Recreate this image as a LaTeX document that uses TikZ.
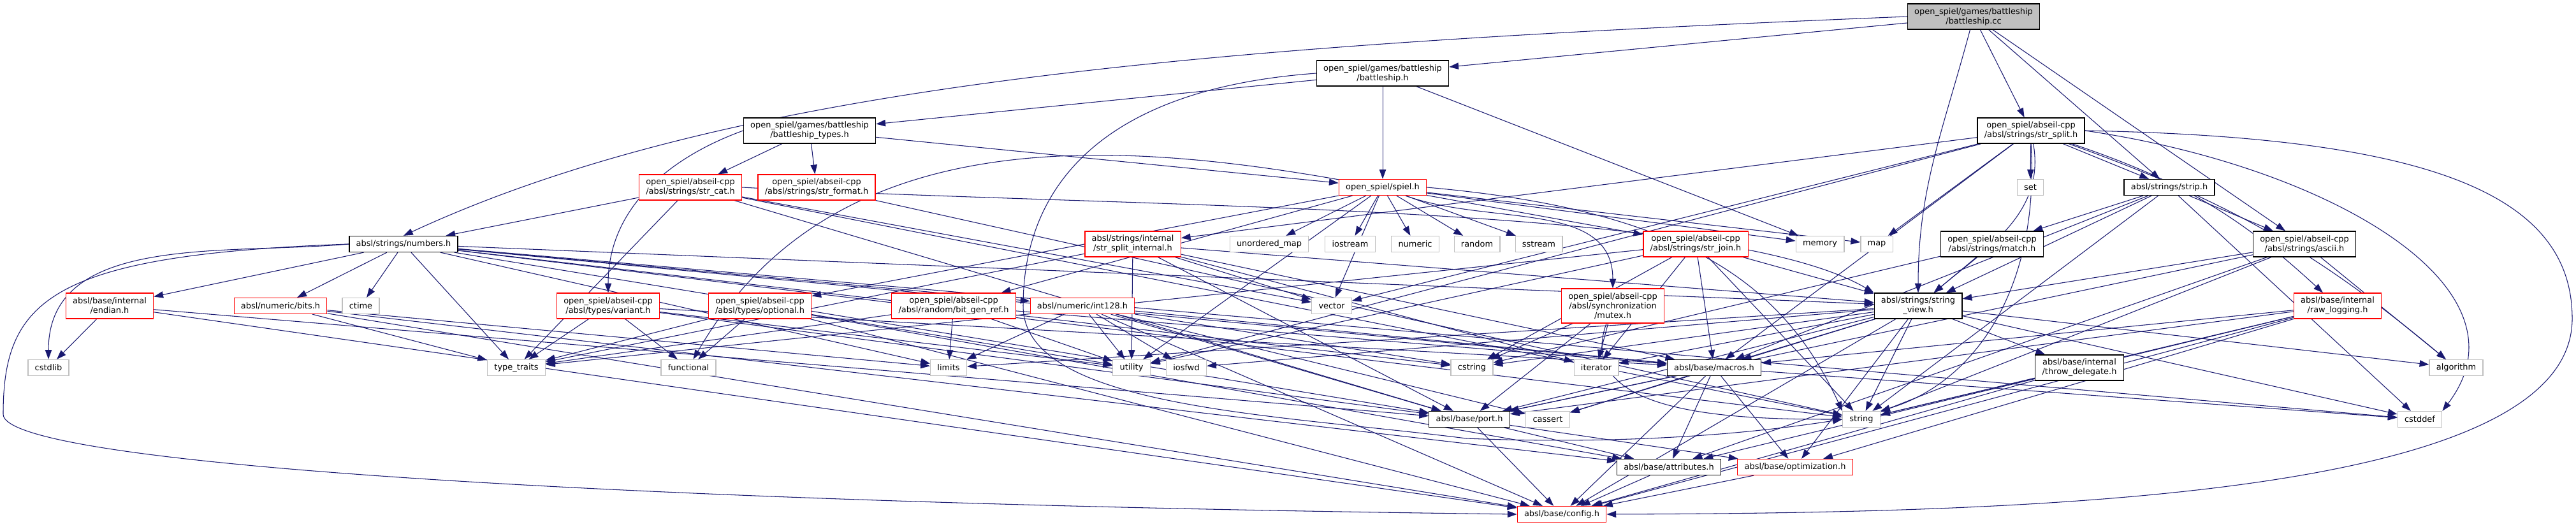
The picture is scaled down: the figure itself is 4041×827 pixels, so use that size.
\documentclass[tikz,border=0pt]{standalone}
\usepackage{fontspec}
\newfontfamily\graphfont{DejaVu Sans}
\usetikzlibrary{arrows.meta, backgrounds}
\definecolor{edgeblue}{HTML}{191970}
\definecolor{sysgrey}{HTML}{BFBFBF}

\begin{document}
\begin{tikzpicture}[
    x=0.025cm, y=0.025cm,
    header/.style={
        rectangle,
        draw=black,
        fill=white,
        line width=0.9pt,
        align=center,
        font=\graphfont\fontsize{9.2}{10.7}\selectfont,
        inner xsep=0.27cm,
        inner ysep=0.05cm,
        minimum height=0.625cm
    },
    redheader/.style={header, draw=red},
    sysheader/.style={header, draw=sysgrey},
    two/.style={minimum height=1.0cm},
    three/.style={minimum height=1.35cm},
    arrow/.style={-{Triangle[length=0.37cm, width=0.26cm]}, draw=edgeblue, line width=0.75pt}
]
\useasboundingbox (0,0) rectangle (4041,-827);

% rows from top to bottom
\node[header, two, fill=sysgrey] (cc) at (3096,-26) {open\_spiel/games/battleship\\/battleship.cc};
\node[header, two] (bsh) at (2169,-115) {open\_spiel/games/battleship\\/battleship.h};
\node[header, two] (bstypes) at (1270,-205) {open\_spiel/games/battleship\\/battleship\_types.h};
\node[header, two] (strsplit) at (3186,-205) {open\_spiel/abseil-cpp\\/absl/strings/str\_split.h};
\node[redheader, two] (strcat) at (1083,-294) {open\_spiel/abseil-cpp\\/absl/strings/str\_cat.h};
\node[redheader, two] (strformat) at (1281,-294) {open\_spiel/abseil-cpp\\/absl/strings/str\_format.h};
\node[redheader] (spiel) at (2169,-294) {open\_spiel/spiel.h};
\node[sysheader] (set) at (3185,-294) {set};
\node[header] (strip) at (3403,-294) {absl/strings/strip.h};
\node[header] (numbers) at (633,-383) {absl/strings/numbers.h};
\node[redheader, two] (splitint) at (1777,-383) {absl/strings/internal\\/str\_split\_internal.h};
\node[sysheader] (umap) at (1991,-383) {unordered\_map};
\node[sysheader] (iostream) at (2118,-383) {iostream};
\node[sysheader] (numeric) at (2220,-383) {numeric};
\node[sysheader] (random) at (2317,-383) {random};
\node[sysheader] (sstream) at (2414,-383) {sstream};
\node[redheader, two] (strjoin) at (2660,-383) {open\_spiel/abseil-cpp\\/absl/strings/str\_join.h};
\node[sysheader] (memory) at (2855,-383) {memory};
\node[sysheader] (map) at (2944,-383) {map};
\node[header, two] (match) at (3125,-383) {open\_spiel/abseil-cpp\\/absl/strings/match.h};
\node[header, two] (ascii) at (3615,-383) {open\_spiel/abseil-cpp\\/absl/strings/ascii.h};
\node[redheader, two] (endian) at (172,-480) {absl/base/internal\\/endian.h};
\node[redheader] (bits) at (440,-480) {absl/numeric/bits.h};
\node[sysheader] (ctime) at (566,-480) {ctime};
\node[redheader, two] (variant) at (954,-480) {open\_spiel/abseil-cpp\\/absl/types/variant.h};
\node[redheader, two] (optional) at (1192,-480) {open\_spiel/abseil-cpp\\/absl/types/optional.h};
\node[redheader, two] (bitgen) at (1496,-480) {open\_spiel/abseil-cpp\\/absl/random/bit\_gen\_ref.h};
\node[redheader] (int128) at (1698,-480) {absl/numeric/int128.h};
\node[sysheader] (vector) at (2089,-480) {vector};
\node[redheader, three] (mutex) at (2530,-480) {open\_spiel/abseil-cpp\\/absl/synchronization\\/mutex.h};
\node[header, two] (strview) at (3009,-480) {absl/strings/string\\\_view.h};
\node[redheader, two] (rawlog) at (3667,-480) {absl/base/internal\\/raw\_logging.h};
\node[sysheader] (cstdlib) at (76,-577) {cstdlib};
\node[sysheader] (typetraits) at (810,-577) {type\_traits};
\node[sysheader] (functional) at (1080,-577) {functional};
\node[sysheader] (limits) at (1488,-577) {limits};
\node[sysheader] (utility) at (1775,-577) {utility};
\node[sysheader] (iosfwd) at (1861,-577) {iosfwd};
\node[sysheader] (cstring) at (2309,-577) {cstring};
\node[sysheader] (iterator) at (2504,-577) {iterator};
\node[header] (macros) at (2689,-577) {absl/base/macros.h};
\node[header, two] (throwdel) at (3262,-577) {absl/base/internal\\/throw\_delegate.h};
\node[sysheader] (algorithm) at (3853,-577) {algorithm};
\node[header] (port) at (2305,-658) {absl/base/port.h};
\node[sysheader] (cassert) at (2428,-658) {cassert};
\node[sysheader] (string) at (2920,-658) {string};
\node[sysheader] (cstddef) at (3796,-658) {cstddef};
\node[header] (attributes) at (2618,-733) {absl/base/attributes.h};
\node[redheader] (optimization) at (2816,-733) {absl/base/optimization.h};
\node[redheader] (config) at (2450,-807) {absl/base/config.h};

\begin{scope}[on background layer]
% battleship.cc
\draw[arrow] (cc) -- (bsh);
\draw[arrow] (cc.west) .. controls (1900,-70) and (1150,-130) .. (numbers.north);
\draw[arrow] (cc) -- (strsplit);
\draw[arrow] (cc) -- (strip);
\draw[arrow] (cc) -- (ascii);
\draw[arrow] (cc) to[out=-105, in=90] (strview);
% battleship.h
\draw[arrow] (bsh) -- (bstypes);
\draw[arrow] (bsh) -- (spiel);
\draw[arrow] (bsh) -- (memory);
\draw[arrow] (bsh.west) .. controls (1720,-140) and (1605,-300) .. (1605,-480) .. controls (1605,-640) and (2000,-650) .. (2300,-688) .. controls (2600,-700) and (2800,-672) .. (string.west);
% battleship_types.h
\draw[arrow] (bstypes) -- (strcat);
\draw[arrow] (bstypes) -- (strformat);
\draw[arrow] (bstypes) -- (spiel);
\draw[arrow] (bstypes.west) to[out=200, in=90] (variant);
% str_cat.h
\draw[arrow] (strcat) -- (numbers);
\draw[arrow] (strcat.east) .. controls (1800,-328) and (2700,-318) .. (strview.north west);
\draw[arrow] (strcat) -- (typetraits);
\draw[arrow] (strcat) -- (vector);
\draw[arrow] (strcat) -- (string);
\draw[arrow] (strcat) -- (port);
% str_format.h
\draw[arrow] (strformat) -- (string);
% spiel.h
\draw[arrow] (spiel) -- (umap);
\draw[arrow] (spiel) -- (iostream);
\draw[arrow] (spiel) -- (numeric);
\draw[arrow] (spiel) -- (random);
\draw[arrow] (spiel) -- (sstream);
\draw[arrow] (spiel) -- (strjoin);
\draw[arrow] (spiel) -- (memory);
\draw[arrow] (spiel) -- (map);
\draw[arrow] (spiel.east) .. controls (2650,-330) and (2800,-450) .. (string.north west);
\draw[arrow] (spiel) to[out=-20, in=90] (mutex);
\draw[arrow] (spiel) -- (vector);
\draw[arrow] (spiel) -- (utility);
\draw[arrow] (spiel) to[out=170, in=60] (functional);
\draw[arrow] (spiel) -- (optional);
\draw[arrow] (spiel) -- (bitgen);
% str_split.h
\draw[arrow] (strsplit) -- (splitint);
\draw[arrow] (strsplit) -- (set);
\draw[arrow] (strsplit) -- (strip);
\draw[arrow] (strsplit) -- (map);
\draw[arrow] (strsplit) -- (vector);
\draw[arrow] (strsplit) -- (utility);
\draw[arrow] (strsplit.south) .. controls (3200,-450) and (3100,-600) .. (string.north east);
\draw[arrow] (strsplit) to[out=-80, in=40] (strview);
\draw[arrow] (strsplit) -- (macros);
\draw[arrow] (strsplit) to[bend left=12] (rawlog);
\draw[arrow] (strsplit) to[bend left=10] (algorithm);
\draw[arrow] (strsplit.east) .. controls (3650,-260) and (3980,-450) .. (cstddef.north east);
\draw[arrow] (strsplit.east) .. controls (3800,-215) and (4035,-300) .. (4035,-500) .. controls (4035,-780) and (3200,-805) .. (config.east);
% strip.h
\draw[arrow] (strip) -- (match);
\draw[arrow] (strip) -- (ascii);
\draw[arrow] (strip) -- (strview);
\draw[arrow] (strip) -- (string);
\draw[arrow] (strip) -- (macros);
\draw[arrow] (strip) -- (cstddef);
% match.h
\draw[arrow] (match) -- (cstring);
\draw[arrow] (match) -- (strview);
% ascii.h
\draw[arrow] (ascii) -- (algorithm);
\draw[arrow] (ascii) -- (string);
\draw[arrow] (ascii) -- (attributes);
\draw[arrow] (ascii) -- (port);
\draw[arrow] (ascii) -- (strview);
% numbers.h
\draw[arrow] (numbers) -- (endian);
\draw[arrow] (numbers) -- (bits);
\draw[arrow] (numbers) -- (ctime);
\draw[arrow] (numbers) -- (typetraits);
\draw[arrow] (numbers.west) to[out=185, in=90] (cstdlib);
\draw[arrow] (numbers.west) .. controls (80,-400) and (5,-470) .. (5,-650) .. controls (5,-730) and (1000,-790) .. (config.west);
\draw[arrow] (numbers) -- (int128);
\draw[arrow] (numbers) -- (strview);
\draw[arrow] (numbers) -- (macros);
\draw[arrow] (numbers) -- (port);
\draw[arrow] (numbers) -- (string);
\draw[arrow] (numbers) -- (cstring);
\draw[arrow] (numbers) -- (limits);
\draw[arrow] (numbers) -- (cstddef);
% str_split_internal.h
\draw[arrow] (splitint) -- (typetraits);
\draw[arrow] (splitint) -- (vector);
\draw[arrow] (splitint) -- (utility);
\draw[arrow] (splitint) -- (iterator);
\draw[arrow] (splitint) -- (macros);
\draw[arrow] (splitint) -- (port);
\draw[arrow] (splitint) -- (strview);
% str_join.h
\draw[arrow] (strjoin) -- (cstring);
\draw[arrow] (strjoin) -- (iterator);
\draw[arrow] (strjoin) -- (string);
\draw[arrow] (strjoin) -- (typetraits);
\draw[arrow] (strjoin) -- (utility);
\draw[arrow] (strjoin) -- (macros);
\draw[arrow] (strjoin) -- (strview);
% endian.h
\draw[arrow] (endian) -- (cstdlib);
\draw[arrow] (endian) -- (port);
\draw[arrow] (endian) -- (config);
% bits.h
\draw[arrow] (bits) -- (typetraits);
\draw[arrow] (bits) -- (limits);
\draw[arrow] (bits) -- (attributes);
\draw[arrow] (bits) -- (config);
% variant.h
\draw[arrow] (variant) -- (typetraits);
\draw[arrow] (variant) -- (functional);
\draw[arrow] (variant) -- (utility);
\draw[arrow] (variant) -- (macros);
\draw[arrow] (variant) -- (port);
% optional.h
\draw[arrow] (optional) -- (typetraits);
\draw[arrow] (optional) -- (functional);
\draw[arrow] (optional) -- (utility);
\draw[arrow] (optional) -- (attributes);
\draw[arrow] (optional) -- (config);
% bit_gen_ref.h
\draw[arrow] (bitgen) -- (typetraits);
\draw[arrow] (bitgen) -- (limits);
\draw[arrow] (bitgen) -- (utility);
\draw[arrow] (bitgen) -- (macros);
% int128.h
\draw[arrow] (int128) -- (limits);
\draw[arrow] (int128) -- (utility);
\draw[arrow] (int128) -- (iosfwd);
\draw[arrow] (int128) -- (cstring);
\draw[arrow] (int128) -- (cassert);
\draw[arrow] (int128) -- (macros);
\draw[arrow] (int128) -- (port);
\draw[arrow] (int128) -- (config);
% mutex.h
\draw[arrow] (mutex) -- (cstring);
\draw[arrow] (mutex) -- (iterator);
\draw[arrow] (mutex) -- (port);
\draw[arrow] (mutex) to[out=-110, in=180] (string);
% string_view.h
\draw[arrow] (strview) -- (throwdel);
\draw[arrow] (strview) -- (algorithm);
\draw[arrow] (strview) -- (cstddef);
\draw[arrow] (strview) -- (cstring);
\draw[arrow] (strview) -- (iterator);
\draw[arrow] (strview) -- (macros);
\draw[arrow] (strview) -- (string);
\draw[arrow] (strview) -- (cassert);
\draw[arrow] (strview) -- (iosfwd);
\draw[arrow] (strview) -- (limits);
\draw[arrow] (strview) -- (port);
\draw[arrow] (strview) -- (optimization);
\draw[arrow] (strview) -- (config);
% raw_logging.h
\draw[arrow] (rawlog) -- (macros);
\draw[arrow] (rawlog) -- (string);
\draw[arrow] (rawlog) -- (port);
\draw[arrow] (rawlog) -- (attributes);
\draw[arrow] (rawlog) -- (optimization);
\draw[arrow] (rawlog) -- (config);
% throw_delegate.h
\draw[arrow] (throwdel) -- (string);
\draw[arrow] (throwdel) -- (config);
% macros.h
\draw[arrow] (macros) -- (port);
\draw[arrow] (macros) -- (cassert);
\draw[arrow] (macros) -- (cstddef);
\draw[arrow] (macros) -- (attributes);
\draw[arrow] (macros) -- (optimization);
\draw[arrow] (macros) -- (config);
% port.h
\draw[arrow] (port) -- (attributes);
\draw[arrow] (port) -- (optimization);
\draw[arrow] (port) -- (config);
\draw[arrow] (attributes) -- (config);
\draw[arrow] (optimization) -- (config);
\end{scope}

\end{tikzpicture}
\end{document}
